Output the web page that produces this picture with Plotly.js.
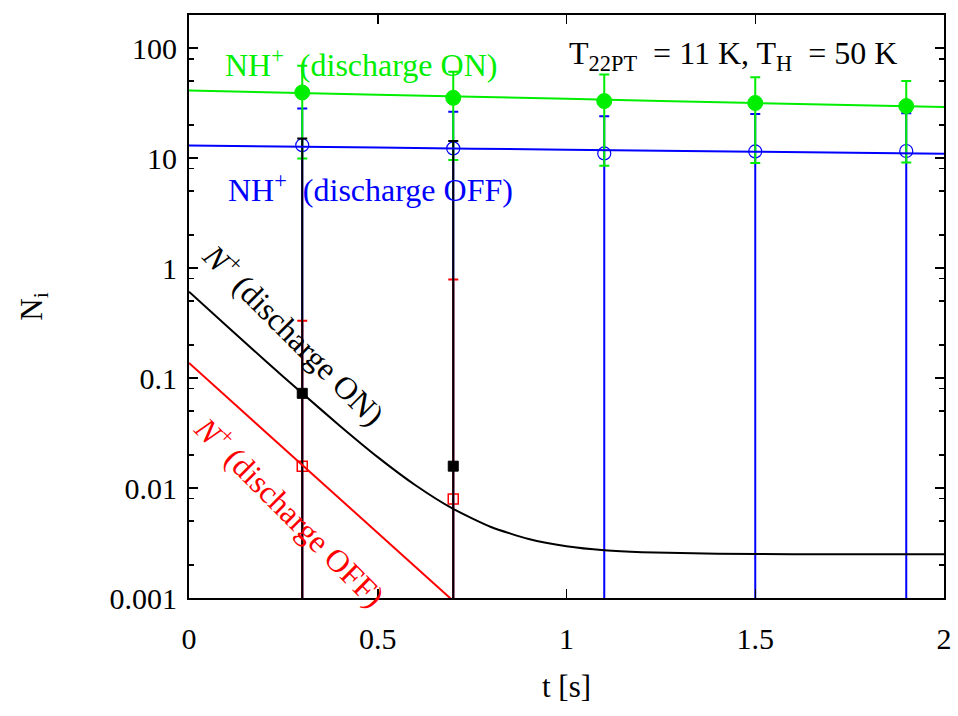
<!DOCTYPE html>
<html>
<head>
<meta charset="utf-8">
<script src="https://cdn.plot.ly/plotly-3.0.1.min.js"></script>
<style>
html,body{margin:0;padding:0;background:#fff;}
#chart{width:958px;height:716px;}
</style>
</head>
<body>
<div id="chart"></div>
<script>
// Measured points (t in s)
var tPts = [0.3, 0.7, 1.1, 1.5, 1.9];
var nhOnY   = [39.5, 35.3, 33.0, 31.7, 29.7];
var nhOnErr = [29.6, 25.7, 24.5, 22.7, 20.6];
var nhOffY   = [13.1, 12.25, 11.03, 11.5, 11.6];
var nhOffErr = [15.2, 14.15, 13.0, 13.7, 13.9];

var tN = [0.3, 0.7];
var nOnY   = [0.0726, 0.0158];
var nOnErr = [15.0, 14.3];
var nOffY   = [0.0158, 0.00794];
var nOffErr = [0.316, 0.781];

// Fitted curves
var tFitNH = [0, 0.5, 1, 1.5, 2];
var nhOnFit  = [41.1, 37.7, 34.6, 31.7, 29.1];
var nhOffFit = [13.0, 12.45, 11.93, 11.43, 10.97];

var tFitNOn = [0, 0.1, 0.2, 0.3, 0.4, 0.5, 0.6, 0.7, 0.8, 0.9, 1.0, 1.1, 1.2, 1.4, 1.6, 2.0];
var nOnFit  = [0.6095, 0.298, 0.146, 0.0727, 0.0367, 0.0191, 0.0106, 0.00645, 0.00442, 0.00344, 0.00296, 0.00272, 0.00261, 0.00253, 0.0025, 0.0025];

var tFitNOff = [0, 0.75];
var nOffFit  = [0.137, 0.000659];

var yTickVals = [0.001, 0.01, 0.1, 1, 10, 100];
var yTickText = ['0.001', '0.01', '0.1', '1', '10', '100'];
var xTickVals = [0, 0.5, 1, 1.5, 2];
var xTickText = ['0', '0.5', '1', '1.5', '2'];
var yMinorVals = [0.002, 0.005, 0.008, 0.02, 0.05, 0.08, 0.2, 0.5, 0.8, 2, 5, 8, 20, 50, 80, 200];

var GREEN = '#00ee00', BLUE = '#0000ff', RED = '#ff0000', BLACK = '#000000';
var FONT = '"Liberation Serif", "Times New Roman", "DejaVu Serif", serif';

function errPts(x, y, err, color, symbol, size, lw) {
  return {
    x: x, y: y, type: 'scatter', mode: 'markers', showlegend: false, hoverinfo: 'skip',
    marker: {symbol: symbol, size: size, color: color, line: {color: color, width: lw}},
    error_y: {type: 'data', array: err, visible: true, color: color, thickness: 2, width: 5}
  };
}
function fitLine(x, y, color) {
  return {x: x, y: y, type: 'scatter', mode: 'lines', showlegend: false, hoverinfo: 'skip',
          line: {color: color, width: 2, shape: 'spline', smoothing: 0.6}};
}

var data = [
  errPts(tPts, nhOffY, nhOffErr, BLUE, 'circle-open', 13, 1.2),
  errPts(tPts, nhOnY, nhOnErr, GREEN, 'circle', 15, 1),
  errPts(tN, nOffY, nOffErr, RED, 'square-open', 10, 1.5),
  errPts(tN, nOnY, nOnErr, BLACK, 'square', 10, 1),
  fitLine(tFitNH, nhOffFit, BLUE),
  fitLine(tFitNH, nhOnFit, GREEN),
  fitLine(tFitNOff, nOffFit, RED),
  fitLine(tFitNOn, nOnFit, BLACK)
];

var annFont = {family: FONT, size: 32};
var layout = {
  width: 958, height: 716,
  margin: {l: 189, r: 14, t: 15, b: 118},
  paper_bgcolor: '#fff', plot_bgcolor: '#fff',
  font: {family: FONT, size: 30, color: '#000'},
  showlegend: false,
  xaxis: {
    range: [0, 2], tickvals: xTickVals, ticktext: xTickText,
    showline: true, linewidth: 2, linecolor: '#000', mirror: 'ticks',
    ticks: 'inside', ticklen: 9, tickwidth: 1.5, tickcolor: '#000',
    showgrid: false, zeroline: false, ticklabelstandoff: 13,
    tickfont: {family: FONT, size: 30},
    title: {text: 't [s]', font: {family: FONT, size: 31}, standoff: 21}
  },
  yaxis: {
    type: 'log', range: [-3, Math.log10(200)], tickvals: yTickVals, ticktext: yTickText,
    showline: true, linewidth: 2, linecolor: '#000', mirror: 'ticks',
    ticks: 'inside', ticklen: 9, tickwidth: 1.5, tickcolor: '#000',
    minor: {tickvals: yMinorVals, ticks: 'inside', ticklen: 5, tickwidth: 1.5, tickcolor: '#000', showgrid: false},
    showgrid: false, zeroline: false, ticklabelstandoff: 4,
    tickfont: {family: FONT, size: 30},
    title: {text: 'N<sub>i</sub>', font: {family: FONT, size: 31}, standoff: 58}
  },
  annotations: [
    {xref: 'paper', yref: 'paper', x: 0.045, y: 0.918, xanchor: 'left', yanchor: 'middle', showarrow: false,
     text: 'NH<sup>+</sup>\u00a0 (discharge ON)', font: Object.assign({color: GREEN}, annFont)},
    {xref: 'paper', yref: 'paper', x: 0.049, y: 0.703, xanchor: 'left', yanchor: 'middle', showarrow: false,
     text: 'NH<sup>+</sup>\u00a0 (discharge OFF)', font: Object.assign({color: BLUE}, annFont)},
    {xref: 'paper', yref: 'paper', x: 0.50, y: 0.93, xanchor: 'left', yanchor: 'middle', showarrow: false,
     text: 'T<sub>22PT</sub>\u00a0 = 11 K, T<sub>H</sub>\u00a0 = 50 K', font: Object.assign({color: BLACK}, annFont)},
    {xref: 'paper', yref: 'paper', x: (295 - 189) / 755, y: (598 - 333) / 583, xanchor: 'center', yanchor: 'middle', showarrow: false,
     textangle: 45, text: '<i>N</i><sup>+</sup> (discharge ON)', font: Object.assign({color: BLACK}, annFont)},
    {xref: 'paper', yref: 'paper', x: (291 - 189) / 755, y: (598 - 510) / 583, xanchor: 'center', yanchor: 'middle', showarrow: false,
     textangle: 45, text: '<i>N</i><sup>+</sup> (discharge OFF)', font: Object.assign({color: RED}, annFont)}
  ]
};

Plotly.newPlot('chart', data, layout, {staticPlot: true, displayModeBar: false});
</script>
</body>
</html>
